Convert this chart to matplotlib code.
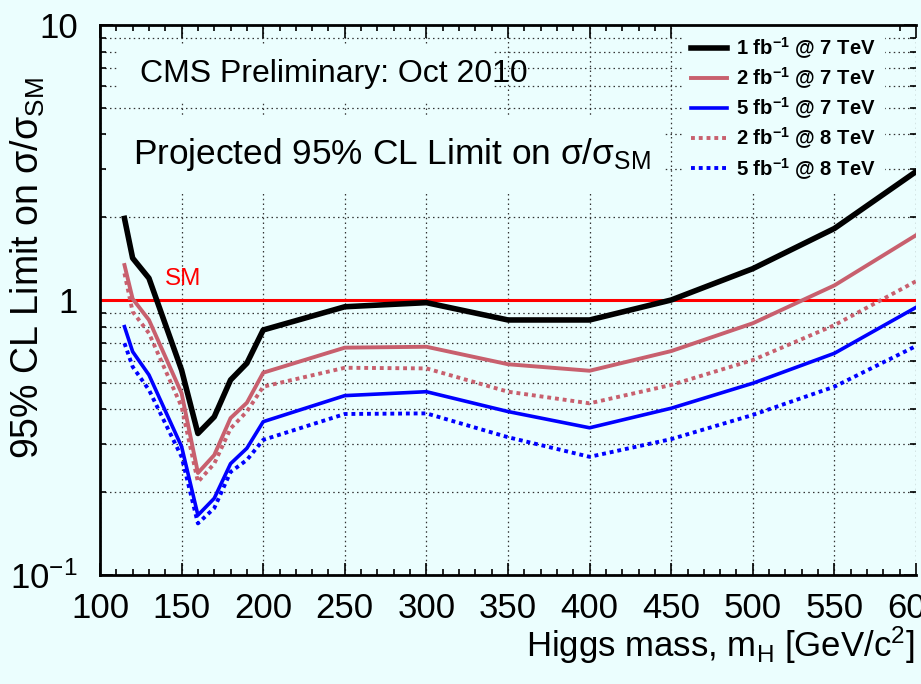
import matplotlib
matplotlib.use("Agg")
import matplotlib.pyplot as plt
from matplotlib.patches import Rectangle
from matplotlib.ticker import FixedLocator, MultipleLocator, FixedFormatter, NullFormatter, LogLocator

plt.rcParams["font.family"] = "Liberation Sans"
plt.rcParams["mathtext.fontset"] = "custom"
plt.rcParams["mathtext.rm"] = "Liberation Sans"
plt.rcParams["mathtext.it"] = "Liberation Sans:italic"
plt.rcParams["mathtext.bf"] = "Liberation Sans:bold"

# Higgs mass points [GeV/c^2]
mass = [115, 120, 130, 150, 160, 170, 180, 190, 200, 250, 300, 350, 400, 450, 500, 550, 600]

# projected 95% CL limits on sigma/sigma_SM
lim_1fb_7 = [1.98, 1.42, 1.20, 0.556, 0.327, 0.376, 0.512, 0.589, 0.778, 0.945, 0.978, 0.846, 0.846, 1.00, 1.30, 1.82, 2.93]
lim_2fb_7 = [1.34, 1.01, 0.846, 0.458, 0.235, 0.273, 0.372, 0.423, 0.544, 0.671, 0.676, 0.584, 0.553, 0.652, 0.823, 1.13, 1.72]
lim_5fb_7 = [0.80, 0.649, 0.534, 0.293, 0.165, 0.190, 0.254, 0.289, 0.361, 0.449, 0.464, 0.393, 0.343, 0.404, 0.498, 0.640, 0.94]
lim_2fb_8 = [1.25, 0.907, 0.757, 0.409, 0.218, 0.254, 0.341, 0.393, 0.484, 0.567, 0.564, 0.464, 0.421, 0.491, 0.605, 0.81, 1.17]
lim_5fb_8 = [0.696, 0.572, 0.471, 0.269, 0.154, 0.175, 0.237, 0.262, 0.310, 0.385, 0.387, 0.317, 0.269, 0.312, 0.382, 0.484, 0.68]

labels = [r"1 fb$^{\mathbf{-1}}$ @ 7 TeV", r"2 fb$^{\mathbf{-1}}$ @ 7 TeV", r"5 fb$^{\mathbf{-1}}$ @ 7 TeV",
          r"2 fb$^{\mathbf{-1}}$ @ 8 TeV", r"5 fb$^{\mathbf{-1}}$ @ 8 TeV"]

x_ticks = [100, 150, 200, 250, 300, 350, 400, 450, 500, 550, 600]
y_ticks = [0.1, 1, 10]
y_ticklabels = [r"$10^{-1}$", "1", "10"]

BG = "#ebfefe"
ROSE = "#c8606e"
BLUE = "#0000ff"
W, H = 921, 684

fig = plt.figure(figsize=(W / 100, H / 100), dpi=100, facecolor=BG)
ax = fig.add_axes([100 / W, 1 - 575 / H, 816 / W, 550 / H], facecolor=BG)
ax.set_yscale("log")
ax.set_xlim(100, 600)
ax.set_ylim(0.1, 10)
ax.set_axisbelow(True)

dot = (0, (1, 1))
ax.plot(mass, lim_1fb_7, color="black", lw=4.0, label=labels[0], zorder=3)
ax.plot(mass, lim_2fb_7, color=ROSE, lw=2.8, label=labels[1], zorder=3)
ax.plot(mass, lim_5fb_7, color=BLUE, lw=2.6, label=labels[2], zorder=3)
ax.plot(mass, lim_2fb_8, color=ROSE, lw=2.8, ls=dot, label=labels[3], zorder=3)
ax.plot(mass, lim_5fb_8, color=BLUE, lw=2.8, ls=dot, label=labels[4], zorder=3)

# SM reference line
ax.axhline(1.0, color="#ff0000", lw=2.2, zorder=2.5)
ax.text(65 / 816, (575 - 285) / 550, "SM", color="#ff0000", fontsize=17.5, va="baseline",
        transform=ax.transAxes)

# ticks / grid
ax.xaxis.set_major_locator(FixedLocator(x_ticks))
ax.xaxis.set_minor_locator(MultipleLocator(10))
ax.yaxis.set_major_locator(FixedLocator(y_ticks))
ax.yaxis.set_major_formatter(FixedFormatter(y_ticklabels))
ax.yaxis.set_minor_locator(LogLocator(base=10, subs=range(2, 10)))
ax.yaxis.set_minor_formatter(NullFormatter())
ax.tick_params(which="both", direction="in", top=True, right=True, colors="black", width=1.2)
ax.tick_params(which="major", length=9, labelsize=25)
ax.tick_params(which="minor", length=4.5)
ax.tick_params(axis="x", which="major", pad=12)
ax.tick_params(axis="y", which="major", pad=16)

grid_kw = dict(color="#333333", lw=0.9, ls=(0, (1.2, 2.6)))
ax.grid(axis="x", which="major", **grid_kw)
ax.grid(axis="y", which="both", **grid_kw)

for s in ["left", "bottom", "top"]:
    ax.spines[s].set_linewidth(2)
ax.spines["right"].set_visible(False)

# text panes hide the grid behind them
def pane(x0, y0, x1, y1):
    ax.add_patch(Rectangle(((x0 - 100) / 816, (575 - y1) / 550), (x1 - x0) / 816, (y1 - y0) / 550,
                           transform=ax.transAxes, facecolor=BG, edgecolor="none", zorder=1))

pane(118, 45, 493, 101)
pane(106, 115, 663, 193)

ax.text(40 / 816, (575 - 82) / 550, "CMS Preliminary: Oct 2010", transform=ax.transAxes,
        fontsize=23, va="baseline", zorder=4)
ax.text(33 / 816, (575 - 164) / 550, r"Projected 95% CL Limit on σ/σ$_{\mathrm{SM}}$", transform=ax.transAxes,
        fontsize=25.4, va="baseline", zorder=4)

leg = ax.legend(loc="upper left", bbox_to_anchor=(682 / W, 1 - 26 / H), bbox_transform=fig.transFigure,
                borderaxespad=0, borderpad=0.45, handlelength=1.75, handletextpad=0.45, labelspacing=0.22,
                prop={"weight": "bold", "size": 14.6}, frameon=True, fancybox=False, framealpha=1)
leg.get_frame().set_facecolor(BG)
leg.get_frame().set_edgecolor("none")
leg.set_zorder(2)

fig.text(28 / W, 1 - 268 / H, r"95% CL Limit on σ/σ$_{\mathrm{SM}}$", rotation=90, fontsize=27,
         ha="center", va="center")
fig.text(915 / W, 1 - 657 / H, r"Higgs mass, m$_{\mathrm{H}}$ [GeV/c$^{2}$]", fontsize=25,
         ha="right", va="baseline")

fig.savefig("out.png", dpi=100, facecolor=BG)
